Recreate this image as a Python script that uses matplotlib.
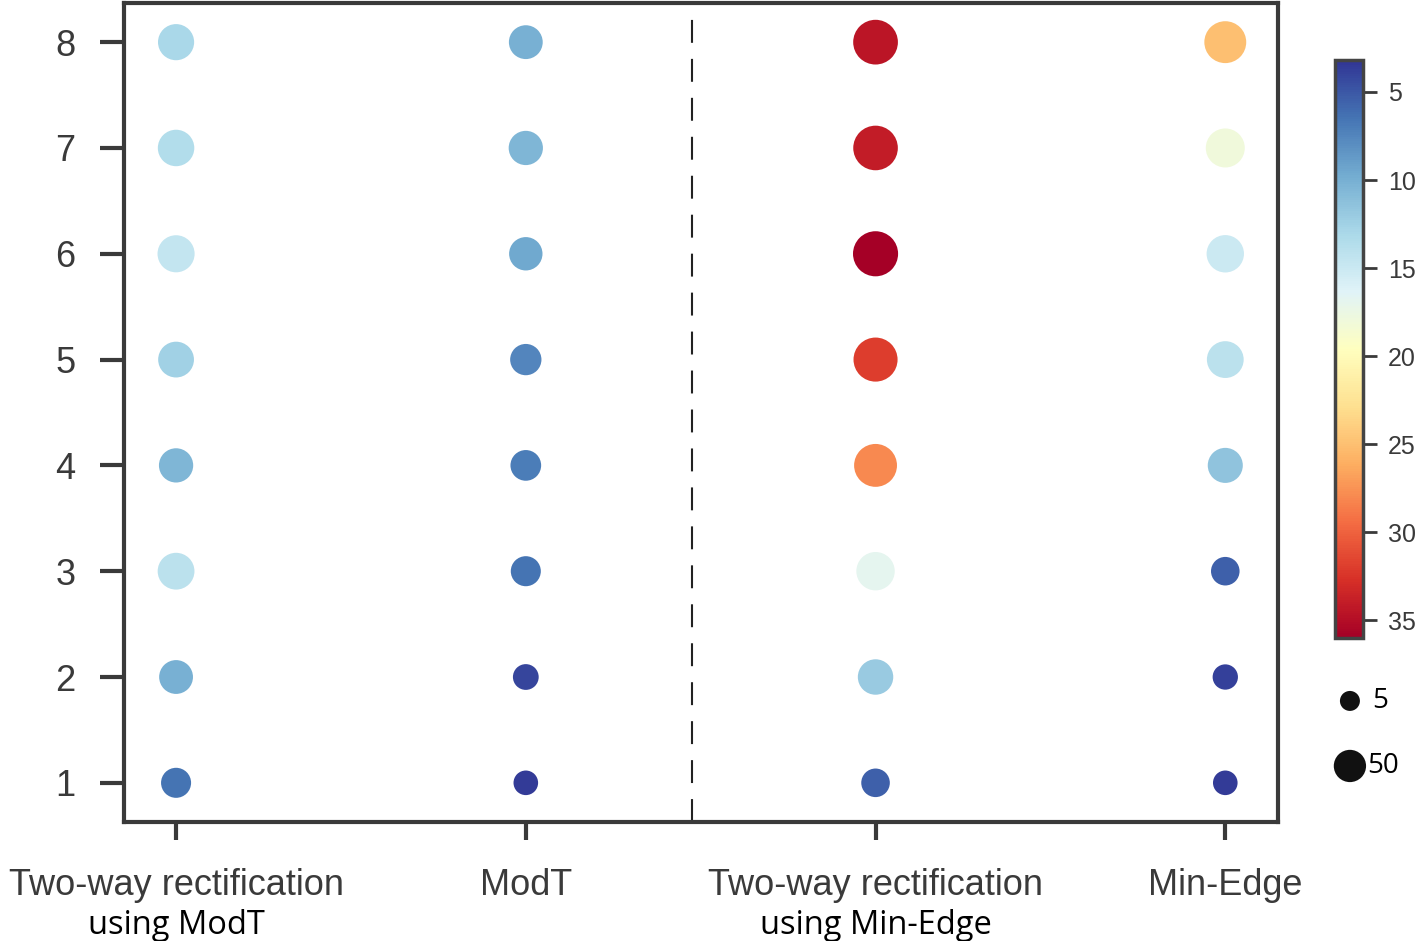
import matplotlib
matplotlib.use("Agg")
import matplotlib.pyplot as plt
import numpy as np
from matplotlib.colors import Normalize

plt.rcParams['font.family'] = ['Liberation Sans', 'DejaVu Sans']

methods = ['Two-way rectification', 'ModT', 'Two-way rectification', 'Min-Edge']
method_sub = ['using ModT', '', 'using Min-Edge', '']
levels = [1, 2, 3, 4, 5, 6, 7, 8]

# values per method, level 1..8
twoway_modt = [6.5, 10.0, 14.0, 10.5, 12.5, 14.5, 13.5, 13.0]
modt = [3.5, 4.0, 6.5, 7.0, 7.5, 9.5, 10.5, 10.0]
twoway_minedge = [5.5, 12.0, 16.8, 28.0, 32.0, 36.0, 34.0, 34.5]
min_edge = [3.5, 3.8, 5.5, 11.5, 14.0, 15.0, 18.0, 25.0]

legend_sizes = [5, 50]

all_vals = [twoway_modt, modt, twoway_minedge, min_edge]
cmap = plt.get_cmap('RdYlBu_r')
norm = Normalize(vmin=3.2, vmax=36)
dark = '#3a3a3a'


def marker_area(v):
    d_px = 12.8 + 8.3 * np.log(np.asarray(v))
    return (d_px * 0.72 * 1.06) ** 2


fig = plt.figure(figsize=(14.15, 9.41), dpi=100)
ax = fig.add_axes([0.0876, 0.1265, 0.8154, 0.8703])

for i, vals in enumerate(all_vals):
    ax.scatter([i] * len(levels), levels, s=marker_area(vals), c=vals,
               cmap=cmap, norm=norm, edgecolors='none', zorder=3)

ax.axvline(1.475, color='#222222', linestyle=(0, (11, 7.7)), linewidth=1.5, zorder=2)

ax.set_xlim(-0.149, 3.15)
ax.set_ylim(0.63, 8.37)
ax.set_yticks(levels)
ax.set_yticklabels([str(l) for l in levels], fontsize=26, color=dark)
ax.set_xticks(range(len(methods)))
ax.set_xticklabels(methods, fontsize=26, color=dark)
for spine in ax.spines.values():
    spine.set_linewidth(3)
    spine.set_color(dark)
ax.tick_params(axis='y', length=17, width=3, color=dark, pad=18)
ax.tick_params(axis='x', length=13, width=3, color=dark, pad=20)

for i, sub in enumerate(method_sub):
    if sub:
        ax.text(i, -0.126, sub, transform=ax.get_xaxis_transform(),
                ha='center', va='center', fontsize=23.5, color='black',
                family=['Open Sans', 'DejaVu Sans'])

# colorbar
cax = fig.add_axes([0.9435, 0.322, 0.0198, 0.614])
sm = plt.cm.ScalarMappable(norm=norm, cmap=cmap)
cb = fig.colorbar(sm, cax=cax, ticks=[5, 10, 15, 20, 25, 30, 35])
cax.invert_yaxis()
cb.outline.set_linewidth(2.5)
cb.outline.set_edgecolor('#444444')
cax.tick_params(length=10, width=2, color=dark, labelsize=18, labelcolor=dark, pad=8)

# size legend
lax = fig.add_axes([0.93, 0.15, 0.07, 0.12])
lax.set_xlim(0, 1)
lax.set_ylim(0, 1)
lax.axis('off')
lax.scatter([0.343, 0.343], [0.876, 0.30], s=[207, 540], color='#111111', edgecolors='none')
for yy, xx, lab in zip([0.876, 0.30], [0.566, 0.515], legend_sizes):
    lax.text(xx, yy, str(lab), va='center', ha='left', fontsize=20,
             family=['Open Sans', 'DejaVu Sans'])

fig.savefig('out.png', dpi=100)
